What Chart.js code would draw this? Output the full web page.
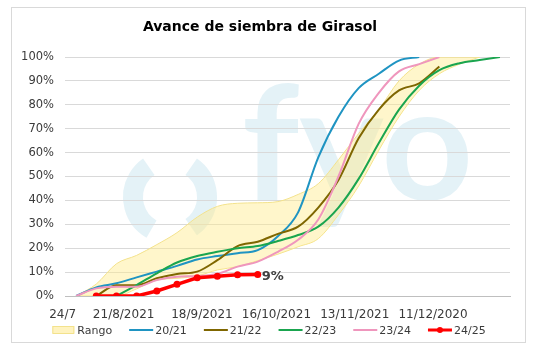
<!DOCTYPE html>
<html>
<head>
<meta charset="utf-8">
<script src="https://cdn.jsdelivr.net/npm/chart.js"></script>
<style>
    html, body { margin: 0; padding: 0; background: #fff; }
    #wrap { position: relative; width: 535px; height: 355px; }
    #frame { position: absolute; left: 11px; top: 7px; width: 513px; height: 334px; border: 1px solid #d9d9d9; pointer-events: none; }
    canvas { position: absolute; left: 0; top: 0; }
</style>
</head>
<body>
<div id="wrap">
    <canvas id="avance" width="535" height="355"></canvas>
    <div id="frame"></div>
</div>
<script>
var titulo = 'Avance de siembra de Girasol';

// etiquetas del eje x (cada 4 semanas) y su posicion en semanas
var tickLabels = ['24/7', '21/8/2021', '18/9/2021', '16/10/2021', '13/11/2021', '11/12/2020'];
var tickWeeks  = [0, 3.88, 7.76, 11.64, 15.52, 19.4];

// avance semanal acumulado (%)
var rangoMax = [0, 5, 13.5, 17, 21.5, 26.5, 33, 37.5, 38.8, 39, 39.5, 42.5, 47, 57, 68, 78, 90, 97, 100, 100, 100];
var rangoMin = [0, 0, 0, 3, 6.7, 7.4, 8.4, 10.9, 12.3, 14.8, 17.5, 20.6, 24, 34, 46, 61, 75, 86, 93, 97, 100];
var c2021 = [0, 3.6, 5.3, 7.8, 10.2, 12.6, 15.3, 16.7, 17.9, 19.2, 25, 35, 58, 75, 87, 93, 98.5, 100];
var c2122 = [null, 0, 4.5, 4.5, 7.4, 9.2, 10.2, 15, 20.9, 22.7, 26, 29, 37, 48.5, 66, 78, 86, 89, 96];
var c2223 = [null, null, 0, 4.6, 9.5, 14, 16.7, 18.5, 20, 20.9, 23, 25.5, 29, 37, 49, 64, 78, 88, 94.5, 97.4, 98.7, 100];
var c2324 = [0, 3.2, 3.9, 3.9, 6.7, 8.1, 8.4, 9.2, 12.3, 14.4, 18.5, 23.5, 32, 50, 72, 85, 94, 97, 100];
var c2425 = [null, 0, 0, 0, 2.1, 4.9, 7.6, 8.3, 8.9, 9];

function toPts(arr) {
    return arr.map(function (v, i) { return { x: i, y: v }; });
}

var watermark = {
    id: 'watermark',
    beforeDraw: function (chart) {
        var ctx = chart.ctx;
        ctx.save();
        ctx.strokeStyle = 'rgba(120,190,215,0.2)';
        ctx.fillStyle = 'rgba(120,190,215,0.2)';
        ctx.lineWidth = 20;
        ctx.beginPath();
        ctx.arc(170, 197, 37, 120 * Math.PI / 180, 235 * Math.PI / 180);
        ctx.stroke();
        ctx.beginPath();
        ctx.arc(170, 197, 37, -55 * Math.PI / 180, 55 * Math.PI / 180);
        ctx.stroke();
        ctx.font = 'bold 160px Lato';
        ctx.textBaseline = 'alphabetic';
        ctx.fillText('fyo', 242, 200);
        ctx.restore();
    }
};

// titulo, leyenda y rotulo del ultimo valor
var textos = {
    id: 'textos',
    afterDatasetsDraw: function (chart) {
        var idx = chart.data.datasets.length - 1;
        var meta = chart.getDatasetMeta(idx);
        var pt = meta.data[meta.data.length - 1];
        var ctx = chart.ctx;
        ctx.save();
        ctx.font = 'bold 13px "DejaVu Sans"';
        ctx.fillStyle = '#404040';
        ctx.textBaseline = 'middle';
        ctx.fillText(c2425[c2425.length - 1] + '%', pt.x + 4, pt.y + 2);
        ctx.restore();
    },
    afterDraw: function (chart) {
        var ctx = chart.ctx;
        ctx.save();
        ctx.font = 'bold 14px "DejaVu Sans"';
        ctx.fillStyle = '#000';
        ctx.textAlign = 'center';
        ctx.textBaseline = 'middle';
        ctx.fillText(titulo, 260, 27);

        ctx.font = '11px "DejaVu Sans"';
        ctx.textAlign = 'left';
        var items = chart.data.datasets.filter(function (ds) { return ds.label !== ''; });
        var total = 0;
        items.forEach(function (ds, i) {
            total += 26 + ctx.measureText(ds.label).width + (i ? 17 : 0);
        });
        var x = 268.5 - total / 2;
        var y = 330;
        items.forEach(function (ds) {
            if (ds.label === 'Rango') {
                ctx.fillStyle = '#fff3bf';
                ctx.strokeStyle = '#f3e28c';
                ctx.lineWidth = 1;
                ctx.fillRect(x + 1, y - 4, 22, 7);
                ctx.strokeRect(x + 1.5, y - 3.5, 21, 7);
            } else {
                ctx.strokeStyle = ds.borderColor;
                ctx.lineWidth = Math.min(ds.borderWidth, 3);
                ctx.beginPath();
                ctx.moveTo(x, y);
                ctx.lineTo(x + 24, y);
                ctx.stroke();
                if (ds.pointRadius) {
                    ctx.fillStyle = ds.backgroundColor;
                    ctx.beginPath();
                    ctx.arc(x + 12, y, 3, 0, Math.PI * 2);
                    ctx.fill();
                }
            }
            ctx.fillStyle = '#3a3a3a';
            ctx.fillText(ds.label, x + 26, y + 1);
            x += 26 + ctx.measureText(ds.label).width + 17;
        });
        ctx.restore();
    }
};

var lineBase = {
    fill: false,
    borderWidth: 2,
    pointRadius: 0,
    cubicInterpolationMode: 'monotone'
};

var chart = new Chart(document.getElementById('avance'), {
    type: 'line',
    data: {
        datasets: [
            { label: 'Rango', data: toPts(rangoMax), fill: { target: 1 }, backgroundColor: 'rgba(255,236,140,0.45)', borderColor: '#f3e28c', borderWidth: 1, pointRadius: 0, cubicInterpolationMode: 'monotone', order: 10 },
            { label: '', data: toPts(rangoMin), fill: false, backgroundColor: 'rgba(255,236,140,0.45)', borderColor: '#f3e28c', borderWidth: 1, pointRadius: 0, cubicInterpolationMode: 'monotone', order: 10 },
            Object.assign({ label: '20/21', data: toPts(c2021), borderColor: '#1f94c2', backgroundColor: '#1f94c2', order: 5 }, lineBase),
            Object.assign({ label: '21/22', data: toPts(c2122), borderColor: '#7f6600', backgroundColor: '#7f6600', order: 4 }, lineBase),
            Object.assign({ label: '22/23', data: toPts(c2223), borderColor: '#1aa54f', backgroundColor: '#1aa54f', order: 3 }, lineBase),
            Object.assign({ label: '23/24', data: toPts(c2324), borderColor: '#ef96bd', backgroundColor: '#ef96bd', order: 2 }, lineBase),
            { label: '24/25', data: toPts(c2425), borderColor: '#ff0000', backgroundColor: '#ff0000', borderWidth: 3.5, pointRadius: 3.5, pointBorderWidth: 0, tension: 0, fill: false, order: 0 }
        ]
    },
    options: {
        responsive: false,
        animation: false,
        layout: { padding: { left: 11, right: 25, top: 57, bottom: 28 } },
        scales: {
            x: {
                type: 'linear',
                min: -0.55,
                max: 21.5,
                afterBuildTicks: function (scale) {
                    scale.ticks = tickWeeks.map(function (v) { return { value: v }; });
                },
                afterFit: function (scale) { scale.height = 31; },
                grid: { display: false, drawTicks: false },
                border: { color: '#bfbfbf' },
                ticks: {
                    autoSkip: false,
                    maxRotation: 0,
                    align: 'end',
                    padding: 12,
                    color: '#3a3a3a',
                    font: { family: '"DejaVu Sans"', size: 12 },
                    callback: function (v, i) { return tickLabels[i]; }
                }
            },
            y: {
                min: 0,
                max: 100,
                afterFit: function (scale) { scale.width = 54; },
                grid: { color: '#d9d9d9', drawTicks: false },
                border: { display: false },
                ticks: {
                    stepSize: 10,
                    padding: 11,
                    color: '#3a3a3a',
                    font: { family: '"DejaVu Sans"', size: 11.5 },
                    callback: function (v) { return v + '%'; }
                }
            }
        },
        plugins: {
            title: { display: false },
            legend: { display: false },
            tooltip: { enabled: false }
        }
    },
    plugins: [watermark, textos]
});
</script>
</body>
</html>
